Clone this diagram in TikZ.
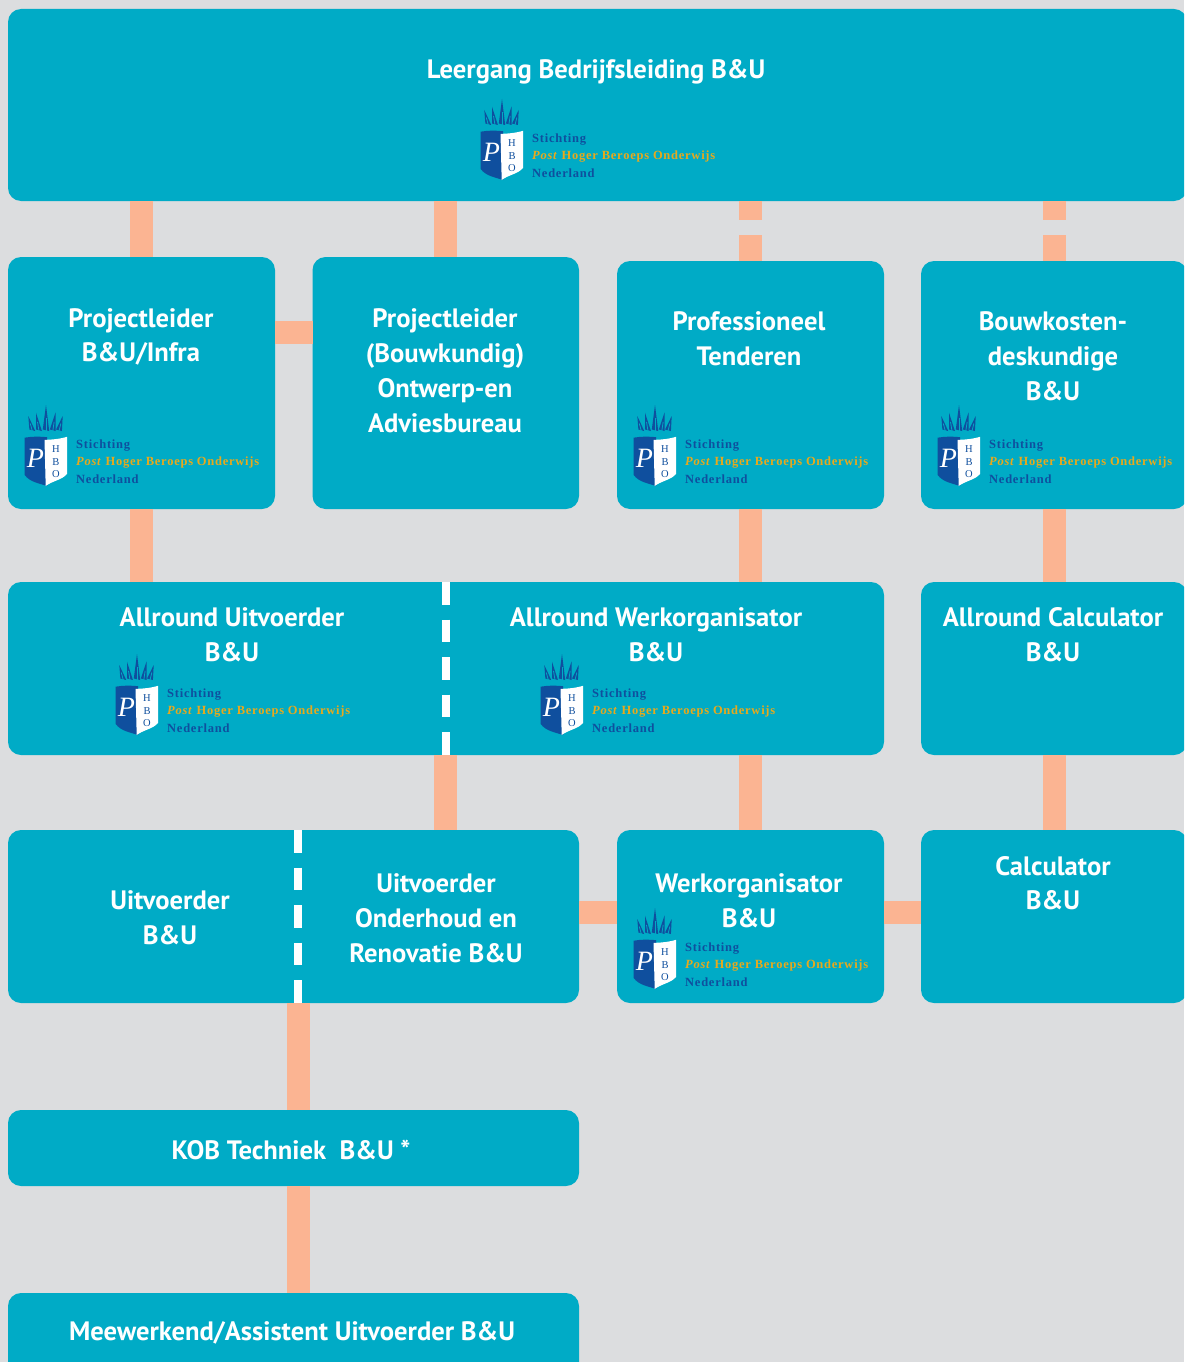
\documentclass[tikz,border=0pt]{standalone}
\usepackage{fontspec}
\setmainfont{PT Sans}
\newfontfamily\logofont[LetterSpace=6]{Liberation Serif}
\newfontfamily\shieldfont{Liberation Serif}
\definecolor{bgc}{HTML}{DCDDDF}
\definecolor{boxc}{HTML}{00ABC6}
\definecolor{linkc}{HTML}{FBB492}
\definecolor{hboblue}{HTML}{0F4F9E}
\definecolor{hbogold}{HTML}{E8A91C}
\tikzset{
  x=1pt,y=-1pt,
  boxstyle/.style={fill=boxc,draw=none,rounded corners=13pt,inner sep=0pt,outer sep=0pt},
  title/.style={text=white,font=\fontsize{26.6}{30}\selectfont\bfseries,align=center,inner sep=0pt},
  vlink/.style={line width=23pt,draw=linkc},
  hlink/.style={line width=23pt,draw=linkc},
  gaplink/.style={line width=23pt,draw=linkc,dash pattern=on 19pt off 15pt on 40pt off 0pt},
  cutline/.style={line width=8pt,draw=white,dash pattern=on 22.5pt off 15pt},
  logotext/.style={anchor=west,inner sep=0pt,font=\logofont\bfseries\fontsize{12.5}{14}\selectfont},
  spike/.style={fill=hboblue,draw=none},
  hbologo/.pic={
    \foreach \bx/\tx/\ty/\wd in {8.3/4.3/-20/2.9,15/12/-23.3/2.9,22/22/-31/3.2,28.8/31.5/-23.3/2.9,35/38.7/-20/2.9}{
      \fill[spike] (\bx-\wd,-6.5) -- (\tx,\ty) -- (\bx+\wd,-5) -- cycle;
      \draw[boxc,line width=0.8pt] (\bx,-5) -- ({0.5*\bx+0.5*\tx},{0.5*(-5)+0.5*\ty});
    }
    \fill[hboblue] (0.7,1.7) .. controls (8,0.4) and (15,0.4) .. (23,1.2) -- (23,50) .. controls (14,47) and (6,46) .. (0.7,39) -- cycle;
    \fill[white] (20.5,3.8) .. controls (27,3.8) and (36,3) .. (43,0.8) -- (43,38) .. controls (38,44) and (28,45) .. (21.7,50) -- cycle;
    \node[text=white,inner sep=0pt,font=\shieldfont\itshape\fontsize{28}{28}\selectfont] (p) at (11.5,22) {P};
    \node[text=hboblue,inner sep=0pt,align=center,font=\shieldfont\fontsize{10.5}{12.5}\selectfont] (hbo) at (32,25.8) {H\\B\\O};
    \node[logotext,text=hboblue] (l1) at (52,9.5) {Stichting};
    \node[logotext] (l2) at (52,26.5) {\textcolor{hbogold}{\textit{Post} Hoger Beroeps Onderwijs}};
    \node[logotext,text=hboblue] (l3) at (52,43) {Nederland};
  }
}
\newcommand\boxnode[5]{%
  \pgfmathsetmacro\bw{#4-#2}\pgfmathsetmacro\bh{#5-#3}%
  \pgfmathsetmacro\bcx{(#2+#4)/2}\pgfmathsetmacro\bcy{(#3+#5)/2}%
  \node[boxstyle,minimum width=\bw pt,minimum height=\bh pt] (#1) at (\bcx,\bcy) {};}
\begin{document}
\begin{tikzpicture}
\clip (0,0) rectangle (1184,1362);
\fill[bgc] (0,0) rectangle (1184,1362);
\boxnode{top}{8}{9}{1187}{201}
\boxnode{pinfra}{8}{257}{275}{509}
\boxnode{pbouw}{312.5}{257}{579}{509}
\boxnode{tender}{617}{261}{884}{509}
\boxnode{kosten}{921}{261}{1187}{509}
\boxnode{allround}{8}{582}{884}{755}
\boxnode{acalc}{921}{582}{1187}{755}
\boxnode{uitv}{8}{830}{579}{1003}
\boxnode{werk}{617}{830}{884}{1003}
\boxnode{calc}{921}{830}{1187}{1003}
\boxnode{kob}{8}{1110}{579}{1186}
\boxnode{mee}{8}{1293}{579}{1390}
% link columns
\coordinate (xa) at (141.5,0);
\coordinate (xb) at (445.5,0);
\coordinate (xc) at (750.5,0);
\coordinate (xd) at (1054.5,0);
\coordinate (xu) at (298.5,0);
\coordinate (yh1) at (0,332.5);
\coordinate (yh2) at (0,912.5);
\draw[vlink] (xa |- top.south) -- (xa |- pinfra.north);
\draw[vlink] (xb |- top.south) -- (xb |- pbouw.north);
\draw[gaplink] (xc |- top.south) -- (xc |- tender.north);
\draw[gaplink] (xd |- top.south) -- (xd |- kosten.north);
\draw[hlink] (pinfra.east |- yh1) -- (pbouw.west |- yh1);
\draw[vlink] (xa |- pinfra.south) -- (xa |- allround.north);
\draw[vlink] (xc |- tender.south) -- (xc |- allround.north);
\draw[vlink] (xd |- kosten.south) -- (xd |- acalc.north);
\draw[vlink] (xb |- allround.south) -- (xb |- uitv.north);
\draw[vlink] (xc |- allround.south) -- (xc |- werk.north);
\draw[vlink] (xd |- acalc.south) -- (xd |- calc.north);
\draw[hlink] (uitv.east |- yh2) -- (werk.west |- yh2);
\draw[hlink] (werk.east |- yh2) -- (calc.west |- yh2);
\draw[vlink] (xu |- uitv.south) -- (xu |- kob.north);
\draw[vlink] (xu |- kob.south) -- (xu |- mee.north);
% dashed dividers
\coordinate (xcut1) at (446,0);
\coordinate (xcut2) at (298,0);
\draw[cutline] (xcut1 |- allround.north) -- (xcut1 |- allround.south);
\draw[cutline] (xcut2 |- uitv.north) -- (xcut2 |- uitv.south);
% titles
\node[title] (t1) at (596,72) {Leergang Bedrijfsleiding B\&U};
\node[title,anchor=north] (t2) at (141,308.5) {Projectleider\\[4pt]B\&U/Infra};
\node[title,anchor=north] (t3) at (445,308.5) {Projectleider\\[5pt](Bouwkundig)\\[5pt]Ontwerp-en\\[5pt]Adviesbureau};
\node[title,anchor=north] (t4) at (749,311.5) {Professioneel\\[5pt]Tenderen};
\node[title,anchor=north] (t5) at (1053,311.5) {Bouwkosten-\\[5pt]deskundige\\[5pt]B\&U};
\node[title,anchor=north] (t6) at (232,607.5) {Allround Uitvoerder\\[5pt]B\&U};
\node[title,anchor=north] (t7) at (656,607.5) {Allround Werkorganisator\\[5pt]B\&U};
\node[title,anchor=north] (t8) at (1053,607.5) {Allround Calculator\\[5pt]B\&U};
\node[title,anchor=north] (t9) at (170,890.5) {Uitvoerder\\[5pt]B\&U};
\node[title,anchor=north] (t10) at (436,873.5) {Uitvoerder\\[5pt]Onderhoud en\\[4.5pt]Renovatie B\&U};
\node[title,anchor=north] (t11) at (749,873.5) {Werkorganisator\\[5pt]B\&U};
\node[title,anchor=north] (t12) at (1053,856.5) {Calculator\\[4pt]B\&U};
\node[title] (t13) at (291,1150) {KOB Techniek\ \ B\&U *};
\node[title] (t14) at (292,1333) {Meewerkend/Assistent Uitvoerder B\&U};
% logos
\pic (logoa) at (480,130) {hbologo};
\pic (logob) at (24,436) {hbologo};
\pic (logoc) at (633,436) {hbologo};
\pic (logod) at (937,436) {hbologo};
\pic (logoe) at (115,685) {hbologo};
\pic (logof) at (540,685) {hbologo};
\pic (logog) at (633,939) {hbologo};
\end{tikzpicture}
\end{document}
